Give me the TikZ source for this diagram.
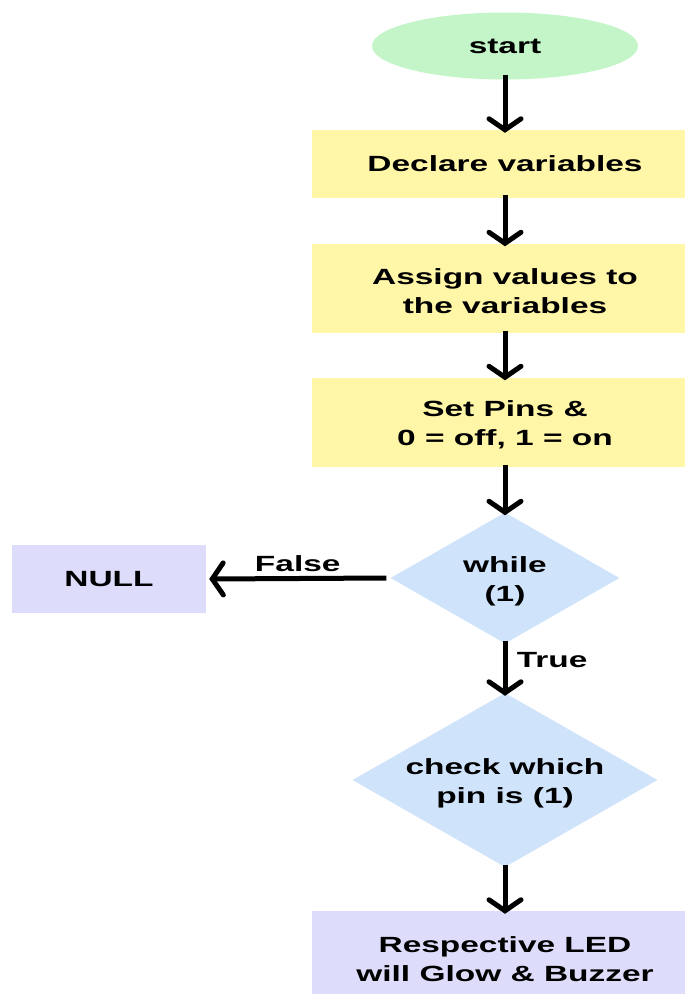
\documentclass[tikz,border=0pt]{standalone}
\usepackage{fontspec}
\setmainfont{Liberation Sans}[FakeStretch=1.52]
\usetikzlibrary{shapes.geometric,arrows.meta}
\definecolor{startgreen}{HTML}{C3F5C9}
\definecolor{stepyellow}{HTML}{FFF6A8}
\definecolor{nullviolet}{HTML}{DDDDFB}
\definecolor{decblue}{HTML}{CFE3FB}
% strut that lowers two-line texts a little inside their shapes
\newcommand\toplift{\rule{0pt}{22pt}}
\tikzset{
  x=1pt, y=-1pt,
  every node/.style={font=\fontsize{22}{29}\selectfont\bfseries, text=black, align=center},
  startnode/.style={ellipse, fill=startgreen, minimum width=266pt, minimum height=67pt, inner sep=0pt},
  stepbox/.style={rectangle, fill=stepyellow, minimum width=386pt, inner sep=0pt},
  endbox/.style={rectangle, fill=nullviolet, inner sep=0pt},
  decision/.style={diamond, fill=decblue, inner sep=0pt, aspect=1.75},
  flow/.style={line width=5pt, -{Straight Barb[length=11pt,width=32pt,line cap=round]}},
  edgelabel/.style={font=\fontsize{22}{24}\selectfont\bfseries}
}
\begin{document}
\begin{tikzpicture}
\useasboundingbox (0,0) rectangle (685,994);
\node[startnode] (start) at (505,46) {start};
\node[stepbox, minimum height=68pt] (decl) at (505,164) {Declare variables};
\node[stepbox, minimum height=89pt] (assign) at (505,288) {\toplift Assign values to\\the variables};
\node[stepbox, minimum height=89pt] (pins) at (505,422) {\toplift Set Pins \&\\0 = off, 1 = on};
\node[decision, minimum width=229pt, minimum height=131pt] (loop) at (505,578) {\toplift while\\(1)};
\node[endbox, minimum width=194pt, minimum height=68pt] (null) at (109,579) {NULL};
\node[decision, minimum width=305pt, minimum height=174pt] (check) at (505,780) {\toplift check which\\pin is (1)};
\node[rectangle, fill=nullviolet, minimum width=386pt, minimum height=90pt, inner sep=0pt] (led) at (505,956) {\toplift Respective LED\\will Glow \& Buzzer};
\draw[flow] ([yshift=5pt]start.south) -- ([yshift=-3pt]decl.north);
\draw[flow] ([yshift=3pt]decl.south) -- ([yshift=-3pt]assign.north);
\draw[flow] ([yshift=2pt]assign.south) -- ([yshift=-3pt]pins.north);
\draw[flow] ([yshift=2pt]pins.south) -- ([yshift=-3pt]loop.north);
\draw[flow] ([xshift=-4pt]loop.west) -- ([xshift=3pt]null.east)
  node[edgelabel, midway, above=1pt] (flabel) {False};
\draw[flow] ([yshift=3pt]loop.south) -- ([yshift=-3pt]check.north)
  node[edgelabel, pos=0.35, right=6pt] (tlabel) {True};
\draw[flow] ([yshift=2pt]check.south) -- ([yshift=-3pt]led.north);
\end{tikzpicture}
\end{document}
